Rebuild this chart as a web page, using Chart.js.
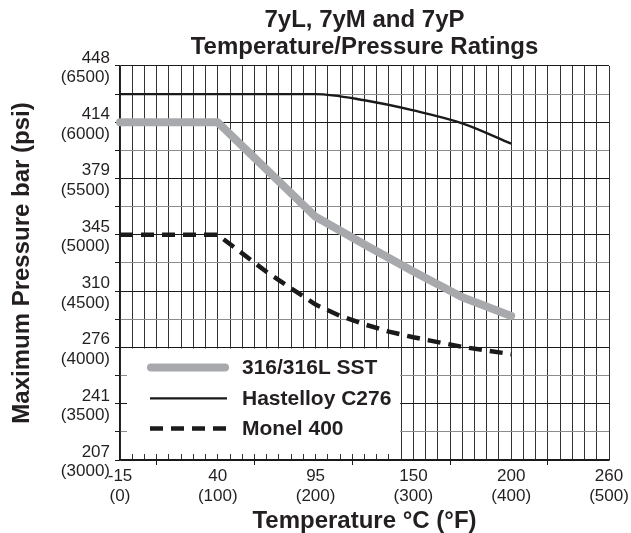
<!DOCTYPE html>
<html><head><meta charset="utf-8">
<script src="https://cdn.jsdelivr.net/npm/chart.js@4.4.1/dist/chart.umd.min.js"></script>
<style>html,body{margin:0;padding:0;background:#fff}canvas{display:block}</style>
</head><body>
<canvas id="c" width="631" height="533"></canvas>
<script>
// ---- data (temperature in °F, pressure in psi) ----
const seriesNames = ['316/316L SST', 'Hastelloy C276', 'Monel 400'];
const sstTempF   = [0, 100, 200, 250, 300, 350, 400];
const sstPsi     = [6000, 6000, 5160, 4915, 4675, 4445, 4280];
const hastTempF  = [0, 200, 250, 300, 350, 400];
const hastPsi    = [6250, 6250, 6195, 6105, 5990, 5810];
const monelTempF = [0, 100, 150, 200, 225, 250, 275, 300, 350, 400];
const monelPsi   = [5000, 5000, 4670, 4380, 4280, 4205, 4140, 4090, 4005, 3940];

// tick labels
const xTickF = [0, 100, 200, 300, 400, 500];
const xTickC = ['-15', '40', '95', '150', '200', '260'];
const yTickPsi = [3000, 3500, 4000, 4500, 5000, 5500, 6000, 6500];
const yTickBar = ['207', '241', '276', '310', '345', '379', '414', '448'];

const toPts = (xs, ys) => xs.map((v, i) => ({x: v, y: ys[i]}));
const FONT = "'Liberation Sans', Arial, Helvetica, sans-serif";
const INK = '#231f20';

const legendBox = {
  id: 'legendBox',
  beforeDatasetsDraw(chart) {
    const {ctx, scales: {x, y}} = chart;
    const left = x.getPixelForValue(0) + 7;
    const right = x.getPixelForValue(287.5) - 1;
    const top = y.getPixelForValue(4000) + 1;
    const bottom = y.getPixelForValue(3000) - 6;
    ctx.save();
    ctx.fillStyle = '#ffffff';
    ctx.fillRect(left, top, right - left, bottom - top);
    const rows = [19, 50, 80];
    chart.data.datasets.forEach((ds, i) => {
      const cy = top + rows[i];
      ctx.beginPath();
      ctx.lineWidth = ds.borderWidth;
      ctx.strokeStyle = ds.borderColor;
      ctx.setLineDash(ds.borderDash || []);
      ctx.lineCap = ds.borderCapStyle || 'butt';
      const x0 = left + (ds.borderCapStyle === 'round' ? 24 : 23);
      const x1 = left + (ds.borderCapStyle === 'round' ? 98 : 100);
      ctx.moveTo(x0, cy);
      ctx.lineTo(x1, cy);
      ctx.stroke();
      ctx.setLineDash([]);
      ctx.fillStyle = INK;
      ctx.font = 'bold 21px ' + FONT;
      ctx.textBaseline = 'middle';
      ctx.textAlign = 'left';
      ctx.fillText(ds.label, left + 115, cy + 1);
    });
    ctx.restore();
  }
};

new Chart(document.getElementById('c'), {
  type: 'line',
  data: {
    datasets: [
      {label: seriesNames[0], data: toPts(sstTempF, sstPsi), borderColor: '#a7a9ac', borderWidth: 8,
       borderCapStyle: 'round', borderJoinStyle: 'round', tension: 0, pointRadius: 0, clip: false},
      {label: seriesNames[1], data: toPts(hastTempF, hastPsi), borderColor: '#1a1a1a', borderWidth: 2.4,
       cubicInterpolationMode: 'monotone', pointRadius: 0, clip: false},
      {label: seriesNames[2], data: toPts(monelTempF, monelPsi), borderColor: '#1a1a1a', borderWidth: 4.5,
       borderDash: [13, 8], tension: 0, pointRadius: 0, clip: false}
    ]
  },
  options: {
    responsive: false,
    animation: false,
    devicePixelRatio: 1,
    layout: {padding: {left: 0, right: 22, top: 0, bottom: 0}},
    plugins: {
      legend: {display: false},
      tooltip: {enabled: false},
      title: {
        display: true, fullSize: false,
        text: ['7yL, 7yM and 7yP', 'Temperature/Pressure Ratings'],
        color: INK,
        font: {family: FONT, size: 24, weight: 'bold', lineHeight: 1.12},
        padding: {top: 7, bottom: 5.2}
      }
    },
    scales: {
      x: {
        type: 'linear', min: 0, max: 500,
        afterFit: s => { s.height = 73; },
        ticks: {
          stepSize: 12.5, autoSkip: false, maxRotation: 0, padding: 1.5,
          color: INK, font: {family: FONT, size: 17, lineHeight: 1.15},
          callback: v => { const i = xTickF.indexOf(v); return i >= 0 ? [xTickC[i], '(' + v + ')'] : ''; }
        },
        grid: {
          color: '#333333', lineWidth: 1, tickLength: 5,
          tickColor: c => (((c.tick.value - 37.5) % 100 === 0) ? '#1a1a1a' : 'rgba(0,0,0,0)')
        },
        border: {color: '#1a1a1a', width: 1.5},
        title: {display: true, text: 'Temperature °C (°F)', color: INK,
                font: {family: FONT, size: 24, weight: 'bold', lineHeight: 1.0}, padding: {top: 0, bottom: 0}}
      },
      y: {
        type: 'linear', min: 3000, max: 6500,
        afterFit: s => { s.width = 120; },
        ticks: {
          stepSize: 250, autoSkip: false, padding: 5, labelOffset: 2,
          color: INK, font: {family: FONT, size: 17, lineHeight: 1.15},
          callback: v => { const i = yTickPsi.indexOf(v); return i >= 0 ? [yTickBar[i], '(' + v + ')'] : ''; }
        },
        grid: {
          color: c => (c.tick.value % 500 === 0 ? '#1a1a1a' : '#8c8c8c'),
          lineWidth: 1, tickLength: 5, tickColor: '#1a1a1a'
        },
        border: {color: '#1a1a1a', width: 1.5},
        title: {display: true, text: 'Maximum Pressure bar (psi)', color: INK,
                font: {family: FONT, size: 24, weight: 'bold', lineHeight: 1.2}, padding: {top: 7.6, bottom: 0}}
      }
    }
  },
  plugins: [legendBox]
});
</script>
</body></html>
